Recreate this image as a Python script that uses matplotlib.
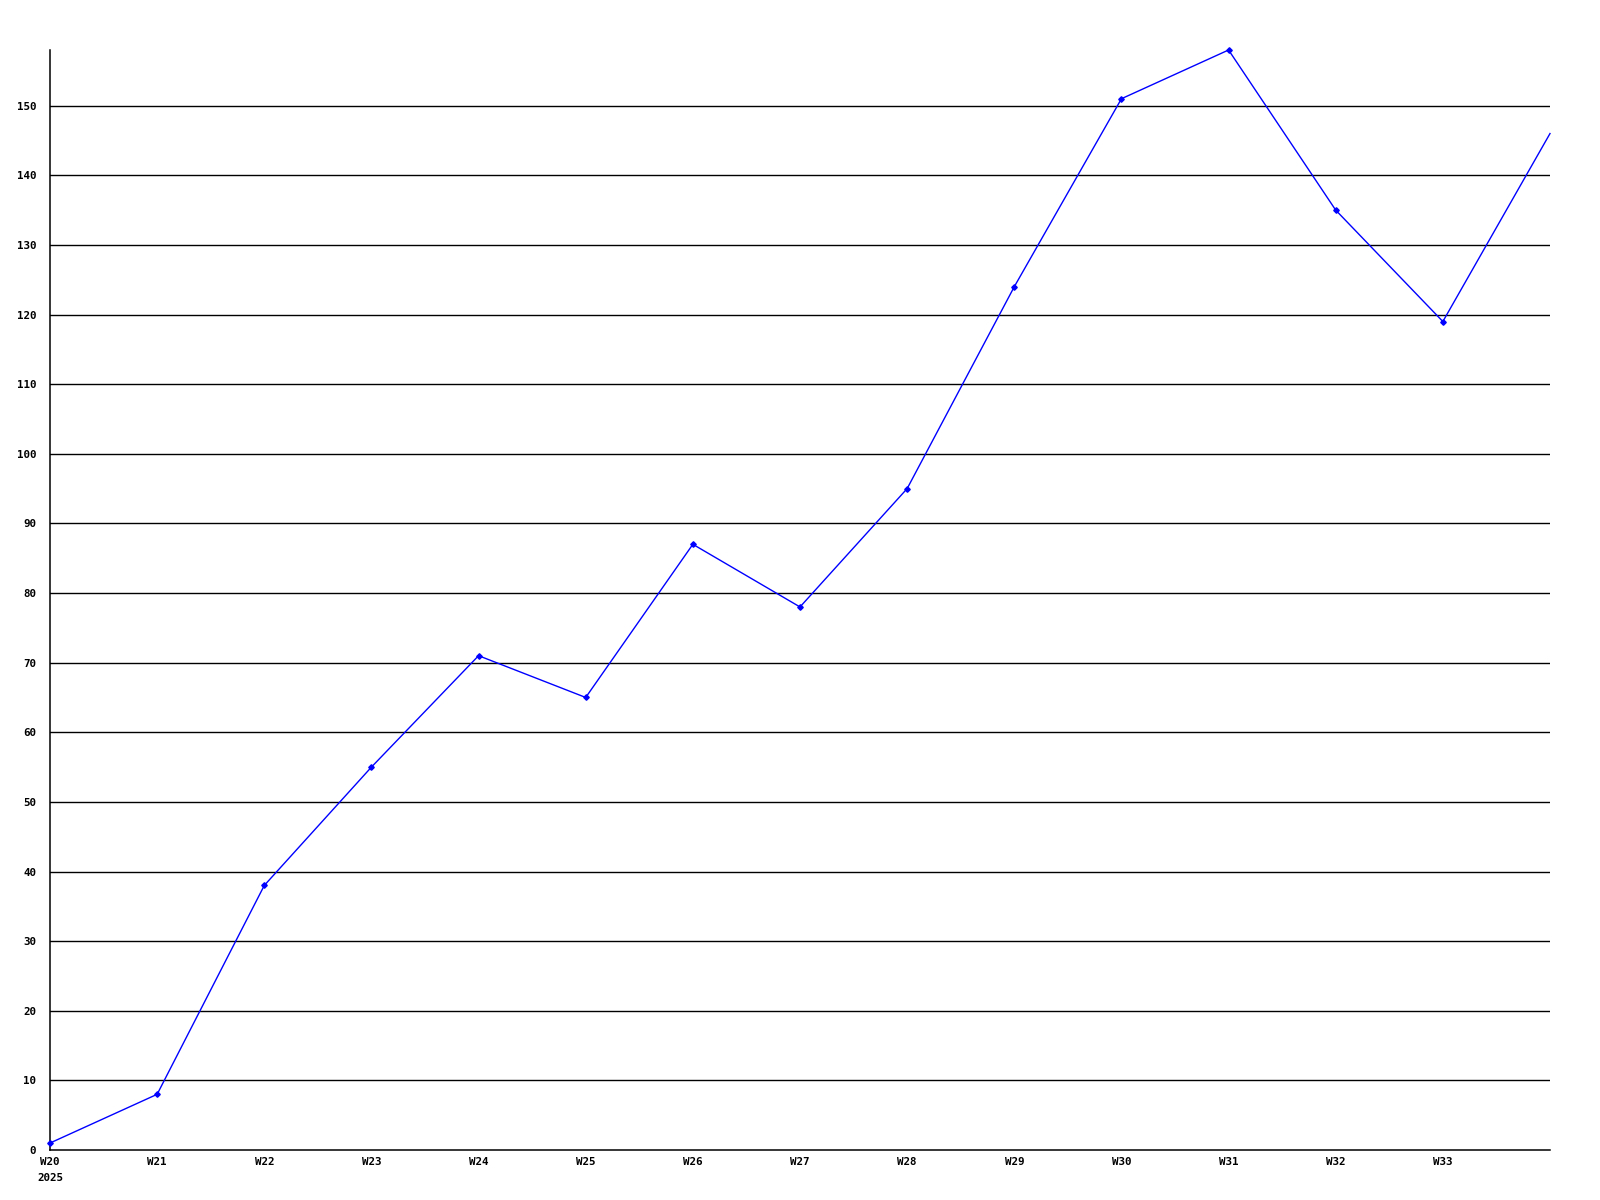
import matplotlib
matplotlib.use("Agg")
import matplotlib.pyplot as plt

weeks = ["W20", "W21", "W22", "W23", "W24", "W25", "W26", "W27", "W28", "W29",
         "W30", "W31", "W32", "W33", "W34"]
values = [1, 8, 38, 55, 71, 65, 87, 78, 95, 124, 151, 158, 135, 119, 146]
year_label = "2025"
yticks = list(range(0, 151, 10))

fig = plt.figure(figsize=(16, 12), dpi=100)
ax = fig.add_axes([50 / 1600, 50 / 1200, 1500 / 1600, 1100 / 1200])

xs = list(range(len(weeks)))
for t in yticks[1:]:
    ax.axhline(t, color="black", lw=1.0, zorder=1)

ax.plot(xs, values, color="#0000ff", lw=1.0, marker="D", markersize=2.8,
        markevery=list(range(len(weeks) - 1)), zorder=3, clip_on=False)

ax.set_xlim(0, len(weeks) - 1)
ax.set_ylim(0, max(values[:-1]))

ax.set_xticks(xs[:-1])
ax.set_xticklabels(weeks[:-1])
ax.set_yticks(yticks)
ax.set_yticklabels([str(t) for t in yticks])

for lab in ax.get_xticklabels() + ax.get_yticklabels():
    lab.set_fontfamily("DejaVu Sans Mono")
    lab.set_fontweight("bold")
    lab.set_fontsize(7.8)

ax.tick_params(axis="both", length=0)
ax.tick_params(axis="x", pad=5)
ax.tick_params(axis="y", pad=10)

for s in ["top", "right"]:
    ax.spines[s].set_visible(False)
for s in ["left", "bottom"]:
    ax.spines[s].set_color("black")
    ax.spines[s].set_linewidth(1.1)

ax.text(0, -0.0205, year_label, transform=ax.get_xaxis_transform(),
        ha="center", va="top", fontfamily="DejaVu Sans Mono",
        fontweight="bold", fontsize=7.8)

fig.savefig("out.png", dpi=100, facecolor="white")
